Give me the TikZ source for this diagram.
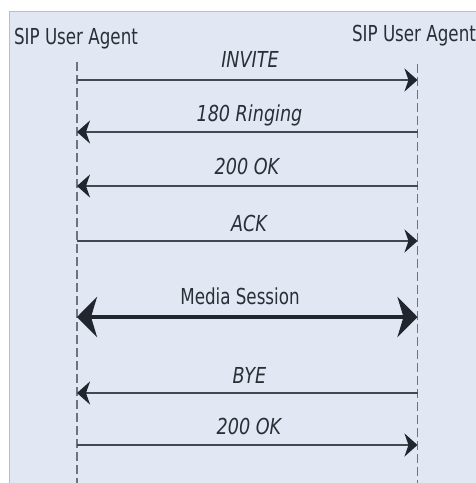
\documentclass[tikz,border=0pt]{standalone}
\usepackage{fontspec}
\usetikzlibrary{arrows.meta}
\newfontfamily\agentfont[FakeStretch=0.76]{DejaVu Sans}
\newfontfamily\msgfont[FakeStretch=0.80]{DejaVu Sans Oblique}
\definecolor{panelbg}{HTML}{E2E8F3}
\definecolor{panelrule}{HTML}{A9C0E4}
\definecolor{inkcol}{HTML}{2A2E36}
\definecolor{linecol}{HTML}{434851}
\definecolor{headcol}{HTML}{20252E}
\definecolor{lifecol}{HTML}{6F737A}
\tikzset{
  agent/.style={inner sep=0pt, anchor=base, text=inkcol, font=\agentfont\fontsize{22}{24}\selectfont},
  msglabel/.style={inner sep=0pt, anchor=base, text=inkcol, font=\msgfont\fontsize{22}{24}\selectfont},
  medialabel/.style={inner sep=0pt, anchor=base, text=inkcol, font=\agentfont\fontsize{22}{24}\selectfont},
  lifeline/.style={draw=lifecol, line width=1.5pt, dash pattern=on 9pt off 4pt},
  msg/.style={draw=linecol, line width=2pt, -{Stealth[length=13pt,width=23pt,inset=4pt,color=headcol]}},
  media/.style={draw=headcol, line width=4.5pt, {Stealth[length=20pt,width=40pt,inset=6pt]}-{Stealth[length=20pt,width=40pt,inset=6pt]}}
}
\begin{document}
\begin{tikzpicture}[x=1pt,y=-1pt]
\useasboundingbox (0,0) rectangle (475,483);
% panel
\fill[white] (0,0) rectangle (475,483);
\fill[panelbg] (9.5,11) rectangle (476,484);
\draw[panelrule, line width=1pt] (9.5,484) -- (9.5,11) -- (476,11);

% participants
\node[agent] (ua1) at (76,44) {SIP User Agent};
\node[agent] (ua2) at (414,41) {SIP User Agent};

% lifelines
\coordinate (l1top) at (77,62);
\coordinate (l1bot) at (77,484);
\coordinate (l2top) at (417.5,64);
\coordinate (l2bot) at (417.5,484);
\draw[lifeline] (l1top) -- (l1bot);
\draw[lifeline] (l2top) -- (l2bot);

% message end points on the lifelines
\foreach \k/\y in {1/80,2/132,3/186,4/241,5/317,6/393,7/445}{
  \coordinate (a\k) at (77,\y);
  \coordinate (b\k) at (417.5,\y);
}

% messages
\node[msglabel] (m1) at (250,67) {INVITE};
\draw[msg] (a1) -- (b1);
\node[msglabel] (m2) at (249.5,121) {180 Ringing};
\draw[msg] (b2) -- (a2);
\node[msglabel] (m3) at (247,174) {200 OK};
\draw[msg] (b3) -- (a3);
\node[msglabel] (m4) at (249,231) {ACK};
\draw[msg] (a4) -- (b4);
\node[medialabel] (m5) at (240,304) {Media Session};
\draw[media] (a5) -- (b5);
\node[msglabel] (m6) at (249.5,383) {BYE};
\draw[msg] (b6) -- (a6);
\node[msglabel] (m7) at (249,434) {200 OK};
\draw[msg] (a7) -- (b7);
\end{tikzpicture}
\end{document}
